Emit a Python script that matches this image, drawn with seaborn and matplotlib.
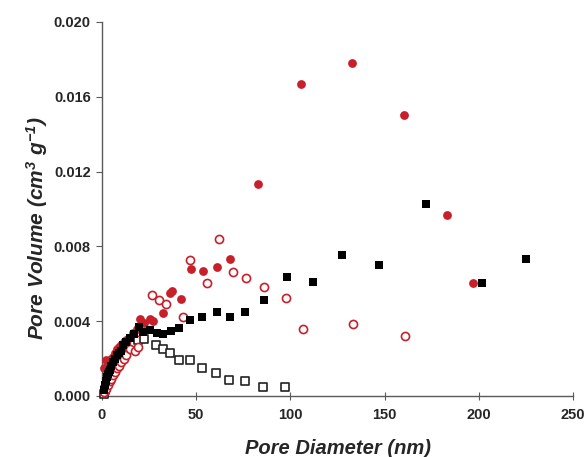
import matplotlib
matplotlib.use("Agg")
import matplotlib.pyplot as plt
import seaborn as sns

# filled black squares
sq_fill_x = [1, 1.5, 2, 2.5, 3, 3.5, 4, 5, 6, 7, 8, 9, 10, 11.3, 13, 14.9, 17, 19.5, 22,
             25.5, 29, 32.6, 36.6, 41, 46.5, 53.3, 61, 68.1, 76.1, 86, 98, 112.2, 127.6,
             147.2, 172, 201.9, 225.1]
sq_fill_y = [0.0003, 0.0006, 0.0008, 0.0010, 0.0012, 0.0013, 0.0014, 0.0016, 0.0018, 0.0020,
             0.0022, 0.0023, 0.0024, 0.0027, 0.0029, 0.0031, 0.0033, 0.0037, 0.0034, 0.00353,
             0.00335, 0.00332, 0.00349, 0.00364, 0.00405, 0.00421, 0.00449, 0.00421, 0.00451,
             0.00513, 0.00636, 0.00610, 0.00754, 0.00699, 0.01027, 0.00603, 0.00731]

# open black squares
sq_open_x = [1, 1.5, 2, 2.5, 3, 4, 5, 6, 7, 8, 9, 10, 11.5, 13, 15, 17, 19.3, 22.5, 28.5,
             32.2, 35.9, 40.9, 46.5, 53.1, 60.5, 67.6, 75.7, 85.3, 97.1]
sq_open_y = [0.0001, 0.0003, 0.0005, 0.0007, 0.0009, 0.0011, 0.0013, 0.0015, 0.0016, 0.0018,
             0.0019, 0.0020, 0.0022, 0.0024, 0.0026, 0.0028, 0.0030, 0.00303, 0.00274, 0.0025,
             0.00232, 0.00193, 0.00191, 0.00151, 0.00121, 0.00086, 0.00079, 0.0005, 0.00046]

# filled red circles
ci_fill_x = [1.2, 2, 3, 4, 5, 6, 7, 8, 9, 10, 11.5, 13, 14.5, 16.6, 18.5, 20.2, 22.5, 25.5,
             27, 32.6, 36, 37.3, 41.8, 47.2, 53.8, 61, 67.9, 82.6, 105.6, 132.7, 160.1, 183,
             197.1]
ci_fill_y = [0.0015, 0.0019, 0.0016, 0.0018, 0.0020, 0.0021, 0.0023, 0.0025, 0.0026, 0.0027,
             0.0029, 0.0030, 0.0031, 0.00335, 0.0036, 0.00413, 0.0039, 0.0041, 0.0040, 0.00446,
             0.0055, 0.0056, 0.00519, 0.00681, 0.0067, 0.00692, 0.00734, 0.01135, 0.01667,
             0.01783, 0.01504, 0.00968, 0.00603]

# open red circles
ci_open_x = [1, 2, 3, 4, 5, 6, 7, 8, 9, 10, 11.5, 13, 14.9, 17.5, 19.3, 18.4, 22, 26.5, 30.3,
             33.8, 43, 46.9, 55.7, 62.3, 69.5, 76.4, 86, 97.5, 106.9, 133.4, 161]
ci_open_y = [0.0002, 0.0004, 0.0006, 0.0008, 0.0009, 0.0011, 0.0013, 0.0015, 0.0016, 0.0018,
             0.0020, 0.0022, 0.0025, 0.0024, 0.0026, 0.0034, 0.0036, 0.00542, 0.00513, 0.00492,
             0.00424, 0.00726, 0.00603, 0.0084, 0.00665, 0.00631, 0.00585, 0.00524, 0.00358,
             0.00383, 0.00323]

x_ticks = [0, 50, 100, 150, 200, 250]
y_ticks = [0.000, 0.004, 0.008, 0.012, 0.016, 0.020]

RED = "#c8202a"

sns.set_style("ticks")
plt.rcParams["font.family"] = ["Liberation Sans", "DejaVu Sans"]
plt.rcParams["mathtext.fontset"] = "custom"
plt.rcParams["mathtext.rm"] = "Liberation Sans:bold:italic"
plt.rcParams["mathtext.it"] = "Liberation Sans:bold:italic"
plt.rcParams["mathtext.bf"] = "Liberation Sans:bold:italic"

fig = plt.figure(figsize=(5.86, 4.57), dpi=100)
ax = fig.add_axes([0.174, 0.1335, 0.804, 0.8185])

sns.scatterplot(x=sq_open_x, y=sq_open_y, ax=ax, marker="s", s=30, facecolor="white",
                edgecolor="#222222", linewidth=1.2, clip_on=False, zorder=3)
sns.scatterplot(x=ci_open_x, y=ci_open_y, ax=ax, marker="o", s=34, facecolor="white",
                edgecolor=RED, linewidth=1.2, clip_on=False, zorder=3)
sns.scatterplot(x=ci_fill_x, y=ci_fill_y, ax=ax, marker="o", s=40, color=RED,
                edgecolor=RED, linewidth=0, clip_on=False, zorder=4)
sns.scatterplot(x=sq_fill_x, y=sq_fill_y, ax=ax, marker="s", s=36, color="black",
                edgecolor="black", linewidth=0, clip_on=False, zorder=4)

ax.set_xlim(0, 250)
ax.set_ylim(0, 0.020)
ax.set_xticks(x_ticks)
ax.set_yticks(y_ticks)
ax.set_xticklabels([str(t) for t in x_ticks], fontweight="bold", fontsize=10.5)
ax.set_yticklabels([f"{t:.3f}" for t in y_ticks], fontweight="bold", fontsize=10.5)

for side in ["top", "right"]:
    ax.spines[side].set_visible(False)
for side in ["left", "bottom"]:
    ax.spines[side].set_color("#5a5a5a")
    ax.spines[side].set_linewidth(1.0)
ax.tick_params(axis="y", direction="out", length=4, color="#5a5a5a", pad=4)
ax.tick_params(axis="x", direction="inout", length=6, color="#5a5a5a", pad=6)

ax.set_xlabel("Pore Diameter (nm)", fontsize=14.5, fontweight="bold", fontstyle="italic",
              labelpad=12)
ax.set_ylabel("Pore Volume (cm$^{3}$ g$^{-1}$)", fontsize=15, fontweight="bold",
              fontstyle="italic")
ax.yaxis.set_label_coords(-0.11, 0.45)

fig.savefig("out.png", dpi=100)
